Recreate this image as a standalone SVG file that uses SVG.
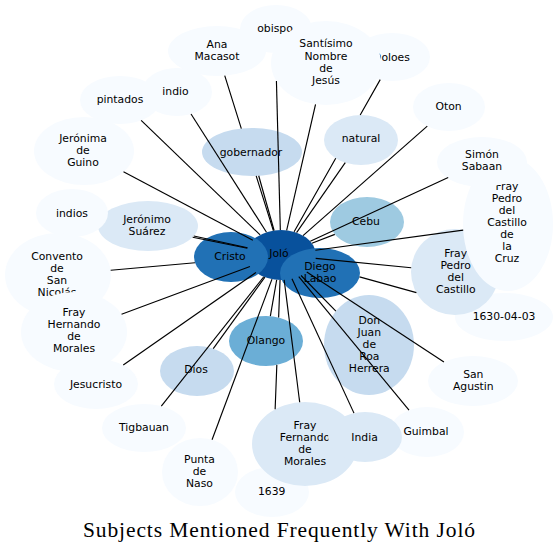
<svg xmlns="http://www.w3.org/2000/svg" width="559" height="552" viewBox="0 0 559 552">
<style>
.c0{fill:#f7fbff}.c1{fill:#dbe9f6}.c2{fill:#c6dbef}.c3{fill:#9ecae1}.c4{fill:#6baed6}.c5{fill:#2171b5}.c6{fill:#08519c}
text{font-family:"DejaVu Sans",sans-serif;font-size:10.8px;text-anchor:middle;fill:#000}
#edges path{stroke:#000;stroke-width:1.15;fill:none}
text.title{font-family:"Liberation Serif",serif;font-size:21.5px}
</style>
<rect width="559" height="552" fill="#fff"/>
<g id="nodes">
<g id="n-jolo"><ellipse class="c6" cx="281" cy="255" rx="35" ry="25"/><text x="279" y="257">Joló</text></g>
<g id="n-cristo"><ellipse class="c5" cx="231" cy="257" rx="37" ry="25"/><text x="230" y="260">Cristo</text></g>
<g id="n-diego"><ellipse class="c5" cx="320" cy="273" rx="40" ry="25"/><text x="320"><tspan x="320" y="270.3">Diego</tspan><tspan x="320" y="282.3">Labao</tspan></text></g>
<g id="n-gobernador"><ellipse class="c2" cx="252" cy="152" rx="50" ry="24"/><text x="251" y="155.5">gobernador</text></g>
<g id="n-natural"><ellipse class="c1" cx="361" cy="140" rx="37" ry="25"/><text x="361" y="142.2">natural</text></g>
<g id="n-olango"><ellipse class="c4" cx="266" cy="341" rx="37" ry="25"/><text x="266" y="344">Olango</text></g>
<g id="n-1630"><ellipse class="c0" cx="504" cy="317" rx="49" ry="24"/><text x="504" y="320">1630-04-03</text></g>
<g id="n-castillo"><ellipse class="c1" cx="455" cy="272" rx="44" ry="43"/><text><tspan x="455.7" y="257.2">Fray</tspan><tspan x="455.7" y="269.2">Pedro</tspan><tspan x="455.7" y="281.2">del</tspan><tspan x="455.7" y="293.2">Castillo</tspan></text></g>
<g id="n-cruz"><ellipse class="c0" cx="508" cy="224" rx="45" ry="67"/><text><tspan x="507" y="190">Fray</tspan><tspan x="507" y="202">Pedro</tspan><tspan x="507" y="214">del</tspan><tspan x="507" y="226">Castillo</tspan><tspan x="507" y="238">de</tspan><tspan x="507" y="250">la</tspan><tspan x="507" y="262">Cruz</tspan></text></g>
<g id="n-simon"><ellipse class="c0" cx="482" cy="162" rx="45" ry="25"/><text><tspan x="482" y="158.2">Simón</tspan><tspan x="482" y="170.2">Sabaan</tspan></text></g>
<g id="n-jeronimo"><ellipse class="c1" cx="148" cy="226" rx="50" ry="25"/><text><tspan x="147" y="223.2">Jerónimo</tspan><tspan x="147" y="235.2">Suárez</tspan></text></g>
<g id="n-obispo"><ellipse class="c0" cx="276" cy="29" rx="36" ry="24"/><text x="275" y="32">obispo</text></g>
<g id="n-doloes"><ellipse class="c0" cx="392" cy="57" rx="38" ry="24"/><text x="391.5" y="60.5">Doloes</text></g>
<g id="n-santisimo"><ellipse class="c0" cx="326" cy="63" rx="55" ry="42"/><text><tspan x="326" y="47.3">Santísimo</tspan><tspan x="326" y="59.5">Nombre</tspan><tspan x="326" y="71.7">de</tspan><tspan x="326" y="83.9">Jesús</tspan></text></g>
<g id="n-ana"><ellipse class="c0" cx="217" cy="51" rx="49" ry="25"/><text><tspan x="217" y="48.2">Ana</tspan><tspan x="217" y="60">Macasot</tspan></text></g>
<g id="n-indios"><ellipse class="c0" cx="72" cy="213" rx="36" ry="24"/><text x="72" y="216.6">indios</text></g>
<g id="n-pintados"><ellipse class="c0" cx="120" cy="100" rx="40" ry="24"/><text x="120" y="103.2">pintados</text></g>
<g id="n-indio"><ellipse class="c0" cx="177" cy="92" rx="35" ry="24"/><text x="175.5" y="95">indio</text></g>
<g id="n-jeronima"><ellipse class="c0" cx="84" cy="151" rx="50" ry="34"/><text><tspan x="83" y="142.2">Jerónima</tspan><tspan x="83" y="154">de</tspan><tspan x="83" y="166.2">Guino</tspan></text></g>
<g id="n-oton"><ellipse class="c0" cx="449" cy="107" rx="36" ry="24"/><text x="448.5" y="110">Oton</text></g>
<g id="n-cebu"><ellipse class="c3" cx="367" cy="222" rx="37" ry="25"/><text x="366" y="224.6">Cebu</text></g>
<g id="n-convento"><ellipse class="c0" cx="58" cy="275" rx="53" ry="42"/><text><tspan x="57" y="260">Convento</tspan><tspan x="57" y="272">de</tspan><tspan x="57" y="284">San</tspan><tspan x="57" y="296">Nicolás</tspan></text></g>
<g id="n-hernando"><ellipse class="c0" cx="74" cy="332" rx="53" ry="40"/><text><tspan x="74" y="316">Fray</tspan><tspan x="74" y="328">Hernando</tspan><tspan x="74" y="340">de</tspan><tspan x="74" y="352">Morales</tspan></text></g>
<g id="n-jesucristo"><ellipse class="c0" cx="96" cy="384" rx="42" ry="25"/><text x="96" y="388.2">Jesucristo</text></g>
<g id="n-dios"><ellipse class="c2" cx="197" cy="371" rx="37" ry="25"/><text x="196" y="373.2">Dios</text></g>
<g id="n-tigbauan"><ellipse class="c0" cx="144" cy="428" rx="42" ry="24"/><text x="144" y="431.2">Tigbauan</text></g>
<g id="n-punta"><ellipse class="c0" cx="200" cy="472" rx="38" ry="34"/><text><tspan x="199.5" y="463.2">Punta</tspan><tspan x="199.5" y="475.2">de</tspan><tspan x="199.5" y="487.2">Naso</tspan></text></g>
<g id="n-1639"><ellipse class="c0" cx="272" cy="492" rx="37" ry="25"/><text x="271.7" y="495">1639</text></g>
<g id="n-fernando"><ellipse class="c1" cx="305" cy="444" rx="53" ry="42"/><text><tspan x="305" y="429">Fray</tspan><tspan x="305" y="441">Fernando</tspan><tspan x="305" y="453">de</tspan><tspan x="305" y="465">Morales</tspan></text></g>
<g id="n-guimbal"><ellipse class="c0" cx="427" cy="432" rx="37" ry="25"/><text x="426" y="434.6">Guimbal</text></g>
<g id="n-india"><ellipse class="c1" cx="365" cy="437" rx="37" ry="25"/><text x="364.5" y="440.6">India</text></g>
<g id="n-sanagustin"><ellipse class="c0" cx="473" cy="381" rx="45" ry="25"/><text><tspan x="473.3" y="378.2">San</tspan><tspan x="473.3" y="390">Agustin</tspan></text></g>
<g id="n-donjuan"><ellipse class="c2" cx="369" cy="345" rx="45" ry="50"/><text><tspan x="369.3" y="324">Don</tspan><tspan x="369.3" y="336">Juan</tspan><tspan x="369.3" y="348">de</tspan><tspan x="369.3" y="360">Roa</tspan><tspan x="369.3" y="372">Herrera</tspan></text></g>
</g>
<g id="edges">
<path d="M276.43,81.1L280.33,230"/>
<path d="M224.74,75.69L241.33,128.56M256.18,175.9L273.35,230.6"/>
<path d="M315.53,104.33L286.65,230.33"/>
<path d="M380.22,79.6L360.19,115.01M335.73,158.25L294.11,231.82"/>
<path d="M191.03,113.99L266.49,232.25"/>
<path d="M141.16,120.37L260.14,234.92"/>
<path d="M123.49,171.85L252.85,240.14"/>
<path d="M258.7,175.78L274.1,230.49"/>
<path d="M345.26,162.62L296.57,232.61"/>
<path d="M427.28,126.14L303.04,235.58"/>
<path d="M448.17,177.5L310.28,241.3"/>
<path d="M463.19,230.12L315.38,250.3"/>
<path d="M334.83,234.35L311.83,243.17"/>
<path d="M411.22,267.72L315.68,258.39"/>
<path d="M416.4,292.64L359.53,276.83"/>
<path d="M193.83,235.99L247.53,247.7"/>
<path d="M192.66,237.25L247.31,248.23"/>
<path d="M110.67,270.28L194.98,262.72"/>
<path d="M121.54,314.32L249.96,266.55"/>
<path d="M123.27,364.99L255.96,272.46"/>
<path d="M213.26,348.54L264.92,277.21"/>
<path d="M161.32,406.13L263.77,276.76"/>
<path d="M212.04,439.75L271.98,279.15"/>
<path d="M270.33,316.17L276.67,279.81"/>
<path d="M275.14,409.3L276.83,364.89M278.63,317.52L280.05,279.99"/>
<path d="M299.69,402.21L284.16,279.9"/>
<path d="M353.98,413.13L291.96,278.74"/>
<path d="M335.89,311.14L301.04,275.49"/>
<path d="M408.99,410.16L298.77,276.54"/>
<path d="M443.92,361.92L306.78,271.91"/>
</g>
<text class="title" x="279" y="537" textLength="392" lengthAdjust="spacing">Subjects Mentioned Frequently With Joló</text>
</svg>
